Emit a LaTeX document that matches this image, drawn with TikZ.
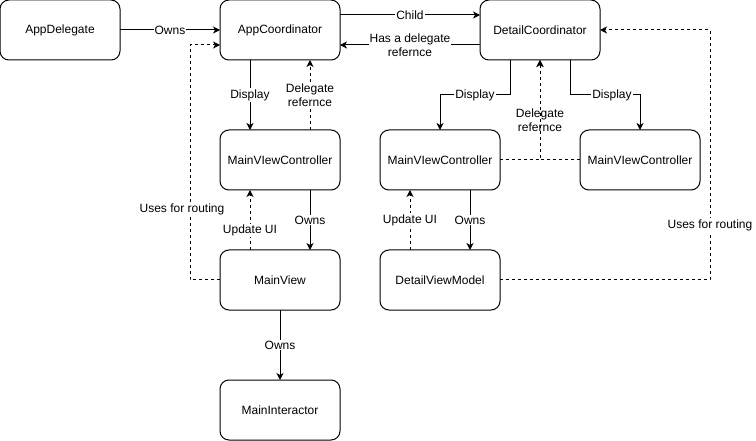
\documentclass[tikz,border=0pt]{standalone}
\usepackage{fontspec}
\setmainfont{Liberation Sans}
\usetikzlibrary{positioning, arrows.meta}
\begin{document}
\begin{tikzpicture}[x=1pt, y=1pt, node distance=60pt, font=\fontsize{12}{14}\selectfont]
    \tikzstyle{actor} = [rectangle, draw, fill=white, rounded corners=9pt, minimum width=120pt, minimum height=60pt, inner sep=0pt, outer sep=0pt, line width=1pt]
    \tikzstyle{line} = [draw, line width=1pt, -{Stealth[length=7pt, width=7pt, inset=2pt]}]
    \tikzstyle{dline} = [line, dash pattern=on 3pt off 3pt]
    \tikzstyle{lbl} = [fill=white, inner sep=1pt, align=center]

    \useasboundingbox (0,0) rectangle (756,-441);

    \node [actor] (appdel) at (60,-30) {AppDelegate};
    \node [actor, right=100pt of appdel] (appcoord) {AppCoordinator};
    \node [actor, right=140pt of appcoord] (detcoord) {DetailCoordinator};
    \node [actor, below=70pt of appcoord] (mvcmain) {MainVIewController};
    \node [actor, below=60pt of mvcmain] (mainview) {MainView};
    \node [actor, below=70pt of mainview] (interactor) {MainInteractor};
    \node [actor, right=40pt of mvcmain] (mvcdetail) {MainVIewController};
    \node [actor, right=80pt of mvcdetail] (mvcright) {MainVIewController};
    \node [actor, below=60pt of mvcdetail] (dvm) {DetailViewModel};

    % top row
    \draw [line] (appdel) -- node [lbl] {Owns} (appcoord);
    \draw [line] ([yshift=15pt]appcoord.east) -- node [lbl] {Child} ([yshift=15pt]detcoord.west);
    \draw [line] ([yshift=-15pt]detcoord.west) -- node [lbl] {Has a delegate\\refernce} ([yshift=-15pt]appcoord.east);

    % main flow
    \draw [line] ([xshift=-30pt]appcoord.south) -- node [lbl] {Display} ([xshift=-30pt]mvcmain.north);
    \draw [dline] ([xshift=30pt]mvcmain.north) -- node [lbl] {Delegate\\refernce} ([xshift=30pt]appcoord.south);
    \draw [line] ([xshift=30pt]mvcmain.south) -- node [lbl] {Owns} ([xshift=30pt]mainview.north);
    \draw [dline] ([xshift=-30pt]mainview.north) -- node [lbl, pos=0.32] {Update UI} ([xshift=-30pt]mvcmain.south);
    \draw [line] (mainview) -- node [lbl] {Owns} (interactor);
    \draw [dline] (mainview.west) -- ++(-30pt,0) |- node [lbl, pos=0.15, xshift=-8pt] {Uses for routing} ([yshift=-15pt]appcoord.west);

    % detail flow
    \draw [line] ([xshift=-30pt]detcoord.south) -- ++(0,-35pt) -| node [lbl, pos=0.25] {Display} (mvcdetail.north);
    \draw [line] ([xshift=30pt]detcoord.south) -- ++(0,-35pt) -| node [lbl, pos=0.3] {Display} (mvcright.north);
    \draw [dline] (mvcdetail.east) -| node [lbl, pos=0.7] {Delegate\\refernce} (detcoord.south);
    \draw [dline] (mvcright.west) -| (detcoord.south);
    \draw [line] ([xshift=30pt]mvcdetail.south) -- node [lbl] {Owns} ([xshift=30pt]dvm.north);
    \draw [dline] ([xshift=-30pt]dvm.north) -- node [lbl] {Update UI} ([xshift=-30pt]mvcdetail.south);
    \draw [dline] (dvm.east) -- ++(210pt,0) |- node [lbl, pos=0.11] {Uses for routing} (detcoord.east);
\end{tikzpicture}
\end{document}
